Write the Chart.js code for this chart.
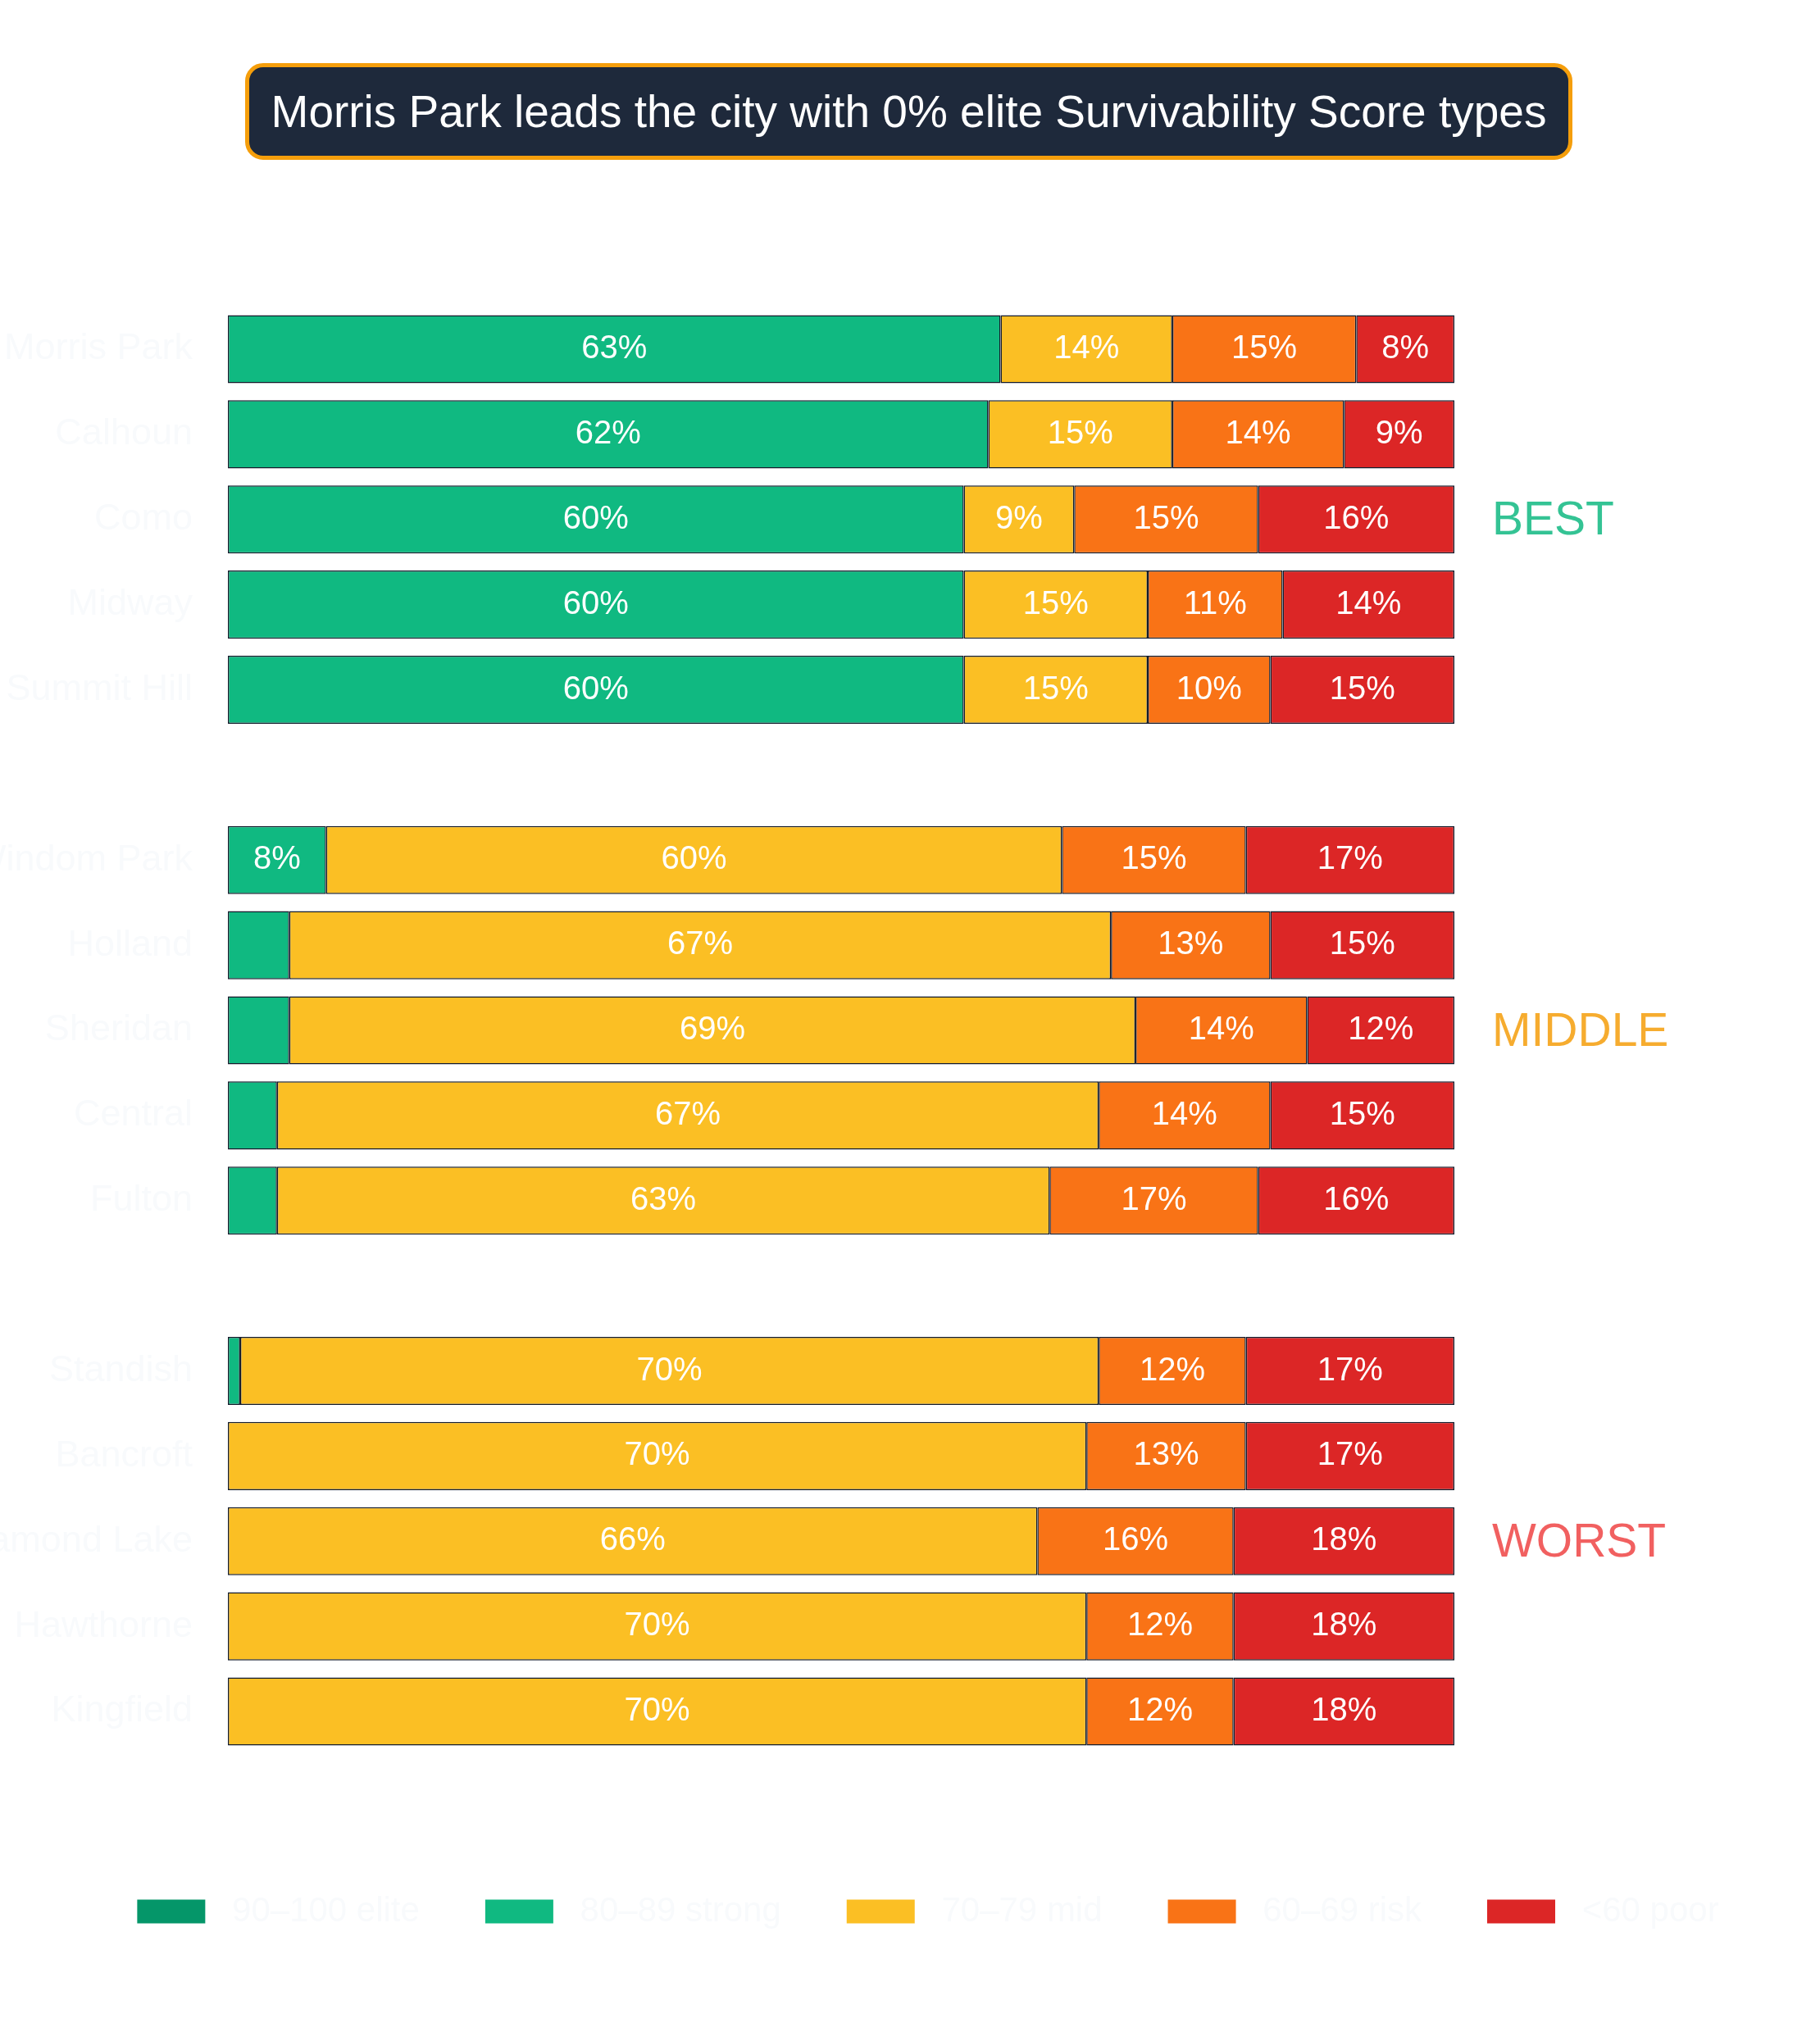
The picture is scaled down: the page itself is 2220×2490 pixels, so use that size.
<!DOCTYPE html>
<html>
<head>
<meta charset="utf-8">
<script src="https://cdn.jsdelivr.net/npm/chart.js@4.4.1/dist/chart.umd.min.js"></script>
<style>
  html, body { margin: 0; padding: 0; background: #ffffff; overflow: hidden; }
  #wrap { position: relative; width: 2220px; height: 2490px; overflow: hidden; }
  #headline {
    position: absolute; left: 299px; top: 77px; width: 1619px; height: 118px;
    box-sizing: border-box; border: 5px solid #f59e0b; border-radius: 22px;
    background: #1e293b; color: #ffffff;
    font-family: "Liberation Sans", Arial, sans-serif; font-size: 55px;
    display: flex; align-items: center; justify-content: center;
  }
  canvas { position: absolute; left: 0; top: 0; }
</style>
</head>
<body>
<div id="wrap">
  <canvas id="tiers" width="2264" height="2490"></canvas>
  <div id="headline">Morris Park leads the city with 0% elite Survivability Score types</div>
</div>
<script>
// neighbourhoods, with blank spacer rows between the three groups
const neighbourhoods = [
    "Morris Park", "Calhoun", "Como", "Midway", "Summit Hill", "",
    "Windom Park", "Holland", "Sheridan", "Central", "Fulton", "",
    "Standish", "Bancroft", "Diamond Lake", "Hawthorne", "Kingfield"
]
const tierNames = ["90–100 elite", "80–89 strong", "70–79 mid", "60–69 risk", "<60 poor"]
const tierColors = ["#059669", "#10b981", "#fbbf24", "#f97316", "#dc2626"]

const elite  = [0, 0, 0, 0, 0, null, 0, 0, 0, 0, 0, null, 0, 0, 0, 0, 0]
const strong = [63, 62, 60, 60, 60, null, 8, 5, 5, 4, 4, null, 1, 0, 0, 0, 0]
const mid    = [14, 15, 9, 15, 15, null, 60, 67, 69, 67, 63, null, 70, 70, 66, 70, 70]
const risk   = [15, 14, 15, 11, 10, null, 15, 13, 14, 14, 17, null, 12, 13, 16, 12, 12]
const poor   = [8, 9, 16, 14, 15, null, 17, 15, 12, 15, 16, null, 17, 17, 18, 18, 18]

const groupNames = ["BEST", "MIDDLE", "WORST"]
const groupRows = [2, 8, 14]
const groupColors = ["rgba(16,185,129,0.85)", "rgba(245,158,11,0.85)", "rgba(239,68,68,0.85)"]

const FONT = '"Liberation Sans", Arial, sans-serif'

const segmentLabels = {
    id: "segmentLabels",
    afterDatasetsDraw(chart) {
        const ctx = chart.ctx
        ctx.save()
        ctx.font = `40px ${FONT}`
        ctx.fillStyle = "#ffffff"
        ctx.textAlign = "center"
        ctx.textBaseline = "middle"
        chart.data.datasets.forEach((ds, di) => {
            chart.getDatasetMeta(di).data.forEach((bar, i) => {
                let v = ds.data[i]
                if (v == null || v < 6) return
                ctx.fillText(`${v}%`, (bar.x + bar.base) / 2, bar.y)
            })
        })
        ctx.restore()
    }
}

const groupTags = {
    id: "groupTags",
    afterDraw(chart) {
        const ctx = chart.ctx
        const y = chart.scales.y
        ctx.save()
        ctx.font = `57px ${FONT}`
        ctx.textAlign = "left"
        ctx.textBaseline = "middle"
        groupNames.forEach((name, i) => {
            ctx.fillStyle = groupColors[i]
            ctx.fillText(name, chart.chartArea.right + 46, y.getPixelForValue(groupRows[i]) + 3)
        })
        ctx.restore()
    }
}

;(function () {
    'use strict'

    const series = [elite, strong, mid, risk, poor]

    new Chart(document.getElementById("tiers"), {
        type: "bar",
        data: {
            labels: neighbourhoods,
            datasets: series.map((vals, i) => ({
                label: tierNames[i],
                data: vals,
                backgroundColor: tierColors[i],
                borderColor: "#131b2b",
                borderWidth: 1.5,
                borderSkipped: false,
                categoryPercentage: 1,
                barPercentage: 0.8
            }))
        },
        options: {
            indexAxis: "y",
            responsive: false,
            animation: false,
            layout: {
                padding: { left: 0, right: 0, top: 374, bottom: 127 }
            },
            plugins: {
                tooltip: { enabled: false },
                legend: {
                    position: "bottom",
                    labels: {
                        boxWidth: 83,
                        boxHeight: 29,
                        padding: 80,
                        color: "#f8fafc",
                        font: { family: FONT, size: 42 },
                        generateLabels: chart => Chart.defaults.plugins.legend.labels.generateLabels(chart)
                            .map(item => ({ ...item, text: " " + item.text, lineWidth: 0, strokeStyle: item.fillStyle }))
                    }
                }
            },
            scales: {
                x: {
                    stacked: true,
                    min: 0,
                    max: 100,
                    grid: { display: false },
                    border: { display: false },
                    ticks: { display: false },
                    afterFit: scale => { scale.height = 91 }
                },
                y: {
                    stacked: true,
                    grid: { display: false, drawTicks: false },
                    border: { display: false },
                    ticks: {
                        padding: 43,
                        color: "#f8fafc",
                        font: { family: FONT, size: 45 }
                    },
                    afterFit: scale => { scale.width = 278 }
                },
                // empty right-hand strip that holds the BEST / MIDDLE / WORST tags
                side: {
                    axis: "y",
                    position: "right",
                    grid: { display: false, drawTicks: false },
                    border: { display: false },
                    ticks: { display: false },
                    afterFit: scale => { scale.width = 490 }
                }
            }
        },
        plugins: [segmentLabels, groupTags]
    })
})()
</script>
</body>
</html>
